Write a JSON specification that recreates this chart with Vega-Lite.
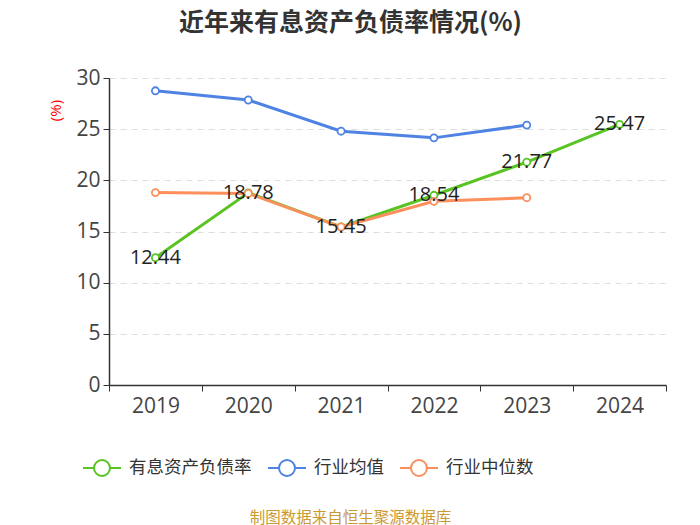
{
  "$schema": "https://vega.github.io/schema/vega-lite/v6.json",
  "autosize": "none",
  "width": 557,
  "height": 307,
  "padding": {"left": 109, "top": 78, "right": 34, "bottom": 140},
  "background": "white",
  "title": {
    "text": "近年来有息资产负债率情况(%)",
    "font": "Noto Sans CJK SC",
    "fontSize": 25,
    "fontWeight": "bold",
    "color": "#333333",
    "anchor": "middle",
    "dx": -37,
    "offset": 31
  },
  "config": {
    "view": {"stroke": null},
    "font": "Noto Sans CJK SC"
  },
  "data": {
    "values": [
      {"year": "2019", "series": "有息资产负债率", "value": 12.44},
      {"year": "2020", "series": "有息资产负债率", "value": 18.78},
      {"year": "2021", "series": "有息资产负债率", "value": 15.45},
      {"year": "2022", "series": "有息资产负债率", "value": 18.54},
      {"year": "2023", "series": "有息资产负债率", "value": 21.77},
      {"year": "2024", "series": "有息资产负债率", "value": 25.47},
      {"year": "2019", "series": "行业均值", "value": 28.75},
      {"year": "2020", "series": "行业均值", "value": 27.85},
      {"year": "2021", "series": "行业均值", "value": 24.8},
      {"year": "2022", "series": "行业均值", "value": 24.15},
      {"year": "2023", "series": "行业均值", "value": 25.4},
      {"year": "2019", "series": "行业中位数", "value": 18.8},
      {"year": "2020", "series": "行业中位数", "value": 18.72},
      {"year": "2021", "series": "行业中位数", "value": 15.45},
      {"year": "2022", "series": "行业中位数", "value": 17.95},
      {"year": "2023", "series": "行业中位数", "value": 18.3}
    ]
  },
  "encoding": {
    "x": {
      "field": "year",
      "type": "nominal",
      "scale": {"paddingInner": 0, "paddingOuter": 0},
      "axis": {
        "title": "制图数据来自恒生聚源数据库",
        "titleColor": "#cc9933",
        "titleFontSize": 15.5,
        "titleFontWeight": "normal",
        "titleX": 241,
        "titleY": 132,
        "titleAlign": "center",
        "titleBaseline": "middle",
        "labelAngle": 0,
        "labelFontSize": 21,
        "labelColor": "#444444",
        "labelFont": "Open Sans",
        "labelPadding": 4,
        "tickBand": "extent",
        "tickSize": 6,
        "tickColor": "#333333",
        "domainColor": "#333333",
        "domainWidth": 1.5,
        "grid": false
      }
    },
    "y": {
      "field": "value",
      "type": "quantitative",
      "scale": {"domain": [0, 30]},
      "axis": {
        "title": "(%)",
        "titleColor": "#ff0000",
        "titleFontSize": 15,
        "titleFont": "Open Sans",
        "titleFontWeight": "normal",
        "titleAngle": -90,
        "titleX": -54,
        "titleY": 32,
        "titleAlign": "center",
        "titleBaseline": "middle",
        "values": [0, 5, 10, 15, 20, 25, 30],
        "labelFontSize": 21,
        "labelColor": "#444444",
        "labelFont": "Open Sans",
        "labelPadding": 3,
        "tickSize": 6,
        "tickColor": "#333333",
        "domainColor": "#333333",
        "domainWidth": 1.5,
        "grid": true,
        "gridColor": "#dddddd",
        "gridDash": [6, 5],
        "gridWidth": 1.2
      }
    }
  },
  "layer": [
    {
      "mark": {"type": "line", "strokeWidth": 3},
      "encoding": {
        "color": {
          "field": "series",
          "type": "nominal",
          "scale": {
            "domain": ["有息资产负债率", "行业均值", "行业中位数"],
            "range": ["#58c322", "#4f83e3", "#fc8f5b"]
          },
          "legend": {
            "orient": "none",
            "direction": "horizontal",
            "legendX": -27,
            "legendY": 370,
            "title": null,
            "symbolType": "M-1,0L-0.42,0M0.42,0L1,0M0.42,0A0.42,0.42 0 1 1 -0.42,0A0.42,0.42 0 1 1 0.42,0",
            "symbolSize": 1444,
            "symbolStrokeWidth": 2,
            "labelFontSize": 17.5,
            "labelColor": "#333333",
            "labelOffset": 7,
            "columnPadding": 12
          }
        }
      }
    },
    {
      "mark": {"type": "point", "filled": true, "fill": "white", "size": 50, "strokeWidth": 1.8, "opacity": 1},
      "encoding": {
        "stroke": {
          "field": "series",
          "type": "nominal",
          "legend": null,
          "scale": {
            "domain": ["有息资产负债率", "行业均值", "行业中位数"],
            "range": ["#58c322", "#4f83e3", "#fc8f5b"]
          }
        }
      }
    },
    {
      "transform": [{"filter": "datum.series === '有息资产负债率'"}],
      "mark": {"type": "text", "fontSize": 20, "color": "#222222", "font": "Open Sans", "baseline": "middle", "align": "center"},
      "encoding": {
        "text": {"field": "value", "type": "quantitative", "format": ".2f"}
      }
    }
  ]
}
